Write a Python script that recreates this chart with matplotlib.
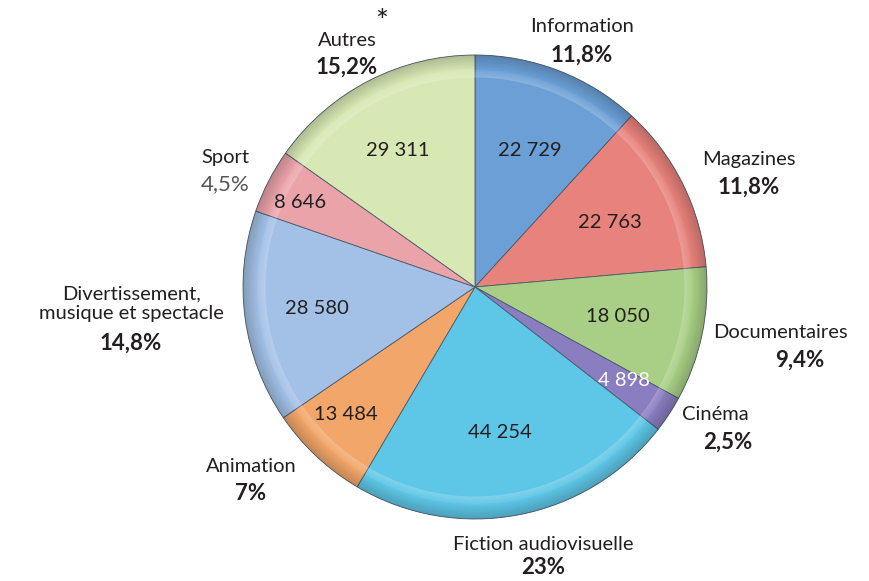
import matplotlib.pyplot as plt
from matplotlib.patches import Wedge

# Data (clockwise from 12 o'clock)
categories = ["Information", "Magazines", "Documentaires", "Cinéma",
              "Fiction audiovisuelle", "Animation",
              "Divertissement,\nmusique et spectacle", "Sport", "Autres"]
hours = [22729, 22763, 18050, 4898, 44254, 13484, 28580, 8646, 29311]
value_labels = ["22 729", "22 763", "18 050", "4 898", "44 254",
                "13 484", "28 580", "8 646", "29 311"]
shares = ["11,8%", "11,8%", "9,4%", "2,5%", "23%", "7%", "14,8%", "4,5%", "15,2%"]

colors = ["#6b9fd6", "#e8827c", "#a8cf85", "#8a7dc0", "#5ec6e6",
          "#f2a66a", "#a3c1e6", "#eba3aa", "#d8e8b4"]

W, H = 869, 581
cx, cy, R = 475, H - 287, 232

fig = plt.figure(figsize=(W / 100, H / 100), dpi=100)
ax = fig.add_axes([0, 0, 1, 1])

wedges, _ = ax.pie(hours, colors=colors, startangle=90, counterclock=False,
                   center=(cx, cy), radius=R,
                   wedgeprops=dict(edgecolor="#4a5a6a", linewidth=0.6))

# fake bevel: dark rim + soft light band
for w, c in zip(wedges, colors):
    t1, t2 = w.theta1, w.theta2
    steps = 6
    for k in range(steps):
        r_out = R * (1 - 0.01 * k)
        ax.add_patch(Wedge((cx, cy), r_out, t1, t2, width=R * 0.01,
                           facecolor="black", alpha=0.03 * (steps - k),
                           edgecolor="none"))
    for k in range(4):
        ax.add_patch(Wedge((cx, cy), R * (0.935 - 0.008 * k), t1, t2,
                           width=R * 0.008, facecolor="white",
                           alpha=0.08 + 0.04 * k, edgecolor="none"))

# value labels inside wedges (pixel offsets from centre)
inner_pos = [(55, -137), (135, -65), (143, 30), (149, 93), (25, 146),
             (-129, 128), (-158, 22), (-175, -84), (-77, -137)]
txt = "#231f20"
for lab, (dx, dy), i in zip(value_labels, inner_pos, range(len(hours))):
    ax.text(cx + dx, cy - dy, lab, ha="center", va="center", fontsize=14.5,
            family="Lato", color="white" if i == 3 else txt)

# category labels outside
outer_pos = [(582, 27), (749, 160), (780, 333), (715, 415), (543, 545),
             (251, 467), (131, 304), (225, 158), (347, 40)]
share_pos = [(582, 55), (749, 187), (800, 360), (728, 442), (543, 567),
             (251, 494), (131, 343), (225, 184), (347, 67)]
for i in range(len(categories)):
    x, y = outer_pos[i]
    ax.text(x, H - y, categories[i], ha="center", va="center", fontsize=14.5,
            family="Lato", color=txt, linespacing=1.2)
    x, y = share_pos[i]
    bold = i != 7
    ax.text(x, H - y, shares[i], ha="center", va="center", fontsize=16,
            family="Lato", weight="bold" if bold else "normal",
            color=txt if bold else "#555555")
ax.text(382, H - 22, "*", ha="center", va="center", fontsize=22,
        family="Lato", color=txt)

ax.set_xlim(0, W)
ax.set_ylim(0, H)
ax.set_aspect("equal")
ax.axis("off")
fig.savefig("out.png", dpi=100)
